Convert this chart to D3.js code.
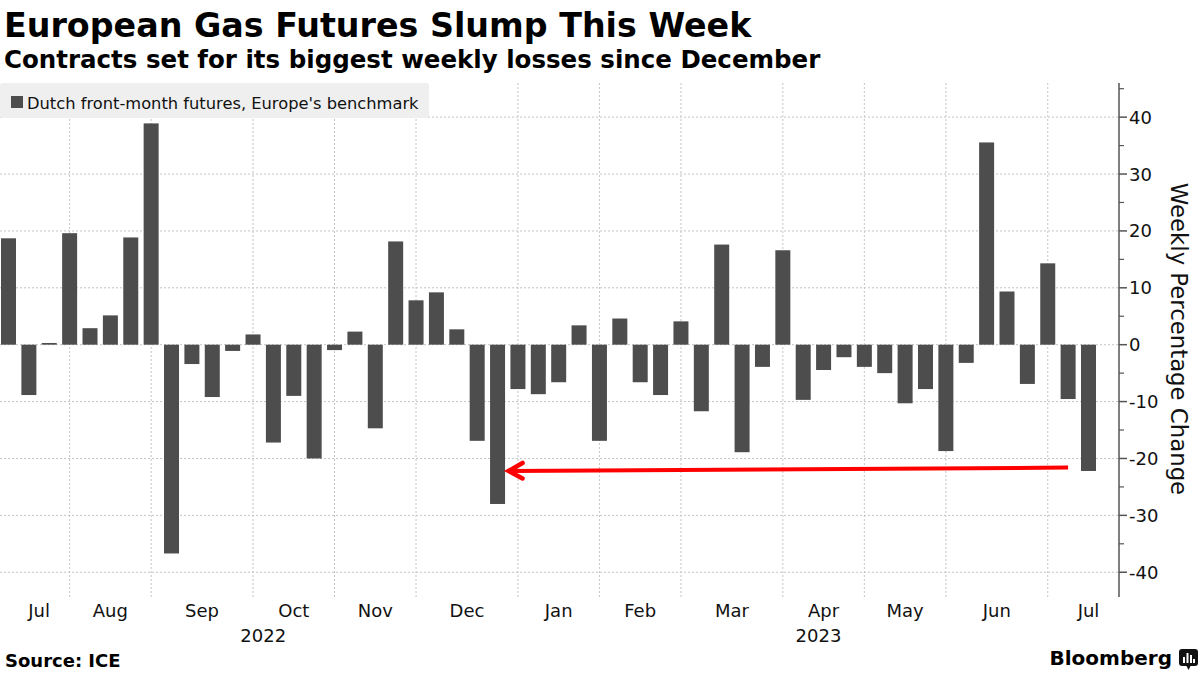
<!DOCTYPE html>
<html>
<head>
<meta charset="utf-8">
<script src="https://cdn.jsdelivr.net/npm/d3@7"></script>
<style>
  html, body { margin: 0; padding: 0; background: #fff; }
  svg { display: block; }
  text { font-family: "DejaVu Sans", Verdana, sans-serif; }
</style>
</head>
<body>
<svg id="chart" width="1200" height="675"></svg>
<script>
// ---------------- DATA ----------------
const weekDates = [
  "2022-07-15","2022-07-22","2022-07-29",
  "2022-08-05","2022-08-12","2022-08-19","2022-08-26",
  "2022-09-02","2022-09-09","2022-09-16","2022-09-23","2022-09-30",
  "2022-10-07","2022-10-14","2022-10-21","2022-10-28",
  "2022-11-04","2022-11-11","2022-11-18","2022-11-25",
  "2022-12-02","2022-12-09","2022-12-16","2022-12-23","2022-12-30",
  "2023-01-06","2023-01-13","2023-01-20","2023-01-27",
  "2023-02-03","2023-02-10","2023-02-17","2023-02-24",
  "2023-03-03","2023-03-10","2023-03-17","2023-03-24","2023-03-31",
  "2023-04-07","2023-04-14","2023-04-21","2023-04-28",
  "2023-05-05","2023-05-12","2023-05-19","2023-05-26",
  "2023-06-02","2023-06-09","2023-06-16","2023-06-23","2023-06-30",
  "2023-07-07","2023-07-14","2023-07-21"
];
const weeklyChange = [
  18.7, -8.85, 0.3,
  19.6, 2.9, 5.15, 18.85,
  38.9, -36.7, -3.4, -9.2, -1.1,
  1.8, -17.2, -9.0, -20.0,
  -0.95, 2.3, -14.7, 18.15,
  7.8, 9.2, 2.7, -16.9, -28.0,
  -7.8, -8.7, -6.6, 3.4,
  -16.9, 4.6, -6.6, -8.85,
  4.1, -11.7, 17.6, -18.9, -3.9,
  16.6, -9.7, -4.45, -2.2,
  -3.9, -5.0, -10.3, -7.8,
  -18.7, -3.2, 35.55, 9.35, -6.9,
  14.3, -9.55, -22.2
];
const monthStarts = ["2022-07-01","2022-08-01","2022-09-01","2022-10-01","2022-11-01","2022-12-01",
                     "2023-01-01","2023-02-01","2023-03-01","2023-04-01","2023-05-01","2023-06-01","2023-07-01"];
const monthLabels = ["Jul","Aug","Sep","Oct","Nov","Dec","Jan","Feb","Mar","Apr","May","Jun","Jul"];
const yearLabels = ["2022","2023"];
const yTicks = [-40,-30,-20,-10,0,10,20,30,40];
const yMinorTicks = [-35,-25,-15,-5,5,15,25,35,45];
const seriesName = "Dutch front-month futures, Europe's benchmark";
const titleText = "European Gas Futures Slump This Week";
const subtitleText = "Contracts set for its biggest weekly losses since December";
const axisTitle = "Weekly Percentage Change";
const sourceText = "Source: ICE";
// annotation: arrow from the latest week back to the December week
const arrowFrom = { index: 52, value: -21.6 };
const arrowTo = { index: 24, value: -22.2 };

// ---------------- LAYOUT ----------------
const svg = d3.select("#chart");
const parse = d3.timeParse("%Y-%m-%d");
const dates = weekDates.map(parse);
const n = dates.length;

const plotLeft = 0, plotRight = 1119, plotTop = 83, plotBottom = 595;
const barColor = "#4d4d4d";

const x = d3.scaleBand()
  .domain(d3.range(n))
  .range([-1.69, 1098.69])
  .paddingInner(0.264)
  .paddingOuter(0.132);
const bw = x.bandwidth();
const xc = d3.scaleLinear().domain([0, n - 1]).range([x(0) + bw / 2, x(n - 1) + bw / 2]);

const y = d3.scaleLinear().domain([-44, 46]).range([plotBottom, plotTop]);

const week = 7 * 24 * 3600 * 1000;
const weekIndex = d => Math.round((d - dates[0]) / week);

// month info
const months = monthStarts.map((s, i) => {
  const m = parse(s);
  const first = weekIndex(d3.timeFriday.ceil(m));
  const next = weekIndex(d3.timeFriday.ceil(d3.timeMonth.offset(m, 1)));
  return { label: monthLabels[i], first, next, date: m };
});

// ---------------- GRID ----------------
const grid = svg.append("g");
grid.selectAll("line.h").data(yTicks).join("line")
  .attr("x1", plotLeft).attr("x2", plotRight)
  .attr("y1", d => y(d)).attr("y2", d => y(d))
  .attr("stroke", "#c4c4c4").attr("stroke-width", 1).attr("stroke-dasharray", "2,2");
grid.selectAll("line.v").data(months.filter(m => m.first > 0)).join("line")
  .attr("x1", d => xc(d.first)).attr("x2", d => xc(d.first))
  .attr("y1", plotTop).attr("y2", plotBottom + 2)
  .attr("stroke", "#c4c4c4").attr("stroke-width", 1).attr("stroke-dasharray", "2,2");

// ---------------- BARS ----------------
svg.append("g").selectAll("rect").data(weeklyChange).join("rect")
  .attr("x", (d, i) => x(i))
  .attr("width", bw)
  .attr("y", d => y(Math.max(0, d)))
  .attr("height", d => Math.abs(y(d) - y(0)))
  .attr("fill", barColor);

// ---------------- Y AXIS (right) ----------------
const yAxis = svg.append("g").attr("transform", `translate(${plotRight},0)`);
yAxis.append("line").attr("x1", 0).attr("x2", 0).attr("y1", plotTop).attr("y2", plotBottom + 2)
  .attr("stroke", "#555").attr("stroke-width", 1.5);
yAxis.selectAll("line.maj").data(yTicks).join("line")
  .attr("x1", 0).attr("x2", 8).attr("y1", d => y(d)).attr("y2", d => y(d))
  .attr("stroke", "#555").attr("stroke-width", 1.5);
yAxis.selectAll("line.min").data(yMinorTicks).join("line")
  .attr("x1", 0).attr("x2", 5).attr("y1", d => y(d)).attr("y2", d => y(d))
  .attr("stroke", "#555").attr("stroke-width", 1.2);
yAxis.selectAll("text").data(yTicks).join("text")
  .attr("x", 10).attr("y", d => y(d)).attr("dy", "0.36em")
  .attr("font-size", 18).attr("fill", "#111")
  .text(d => d3.format("d")(d).replace("−", "-"));

svg.append("text")
  .attr("transform", `translate(1171,${(plotTop + plotBottom) / 2}) rotate(90)`)
  .attr("text-anchor", "middle")
  .attr("font-size", 22.8).attr("fill", "#111")
  .text(axisTitle);

// ---------------- X LABELS ----------------
svg.append("g").selectAll("text").data(months).join("text")
  .attr("x", d => xc((Math.max(0, d.first) + d.next) / 2))
  .attr("y", 617)
  .attr("text-anchor", "middle")
  .attr("font-size", 18).attr("fill", "#111")
  .text(d => d.label);

const janIdx = months.find(m => m.date.getFullYear() === 2023).first;
const yearPos = [ (xc(0) + xc(janIdx)) / 2, (xc(janIdx) + plotRight) / 2 ];
svg.append("g").selectAll("text").data(yearLabels).join("text")
  .attr("x", (d, i) => yearPos[i])
  .attr("y", 642)
  .attr("text-anchor", "middle")
  .attr("font-size", 18).attr("fill", "#111")
  .text(d => d);

// ---------------- LEGEND ----------------
const lg = svg.append("g");
lg.append("rect").attr("x", 0).attr("y", 83).attr("width", 429).attr("height", 35)
  .attr("rx", 3).attr("fill", "#efefef");
lg.append("rect").attr("x", 11).attr("y", 96).attr("width", 12).attr("height", 12).attr("fill", barColor);
lg.append("text").attr("x", 27).attr("y", 108.5).attr("font-size", 16.3).attr("fill", "#111").text(seriesName);

// ---------------- ANNOTATION ARROW ----------------
const ax1 = xc(arrowFrom.index), ay1 = y(arrowFrom.value);
const ax2 = x(arrowTo.index) + bw + 3.5, ay2 = y(arrowTo.value);
svg.append("line").attr("x1", ax1).attr("y1", ay1).attr("x2", ax2 + 2).attr("y2", ay2)
  .attr("stroke", "#ff0000").attr("stroke-width", 4);
svg.append("path")
  .attr("d", `M${ax2 + 14},${ay2 - 8} L${ax2},${ay2} L${ax2 + 14},${ay2 + 7.5}`)
  .attr("fill", "none").attr("stroke", "#ff0000").attr("stroke-width", 4.5)
  .attr("stroke-linejoin", "miter").attr("stroke-linecap", "round");

// ---------------- TITLES ----------------
svg.append("text").attr("x", 4).attr("y", 37).attr("font-size", 33.3).attr("font-weight", "bold")
  .attr("fill", "#000").text(titleText);
svg.append("text").attr("x", 4).attr("y", 68).attr("font-size", 24.5).attr("font-weight", "bold")
  .attr("fill", "#000").text(subtitleText);

// ---------------- FOOTER ----------------
svg.append("text").attr("x", 5).attr("y", 667).attr("font-size", 18).attr("font-weight", "bold")
  .attr("fill", "#000").text(sourceText);
svg.append("text").attr("x", 1172).attr("y", 665).attr("text-anchor", "end")
  .attr("font-size", 20).attr("font-weight", "bold").attr("fill", "#000").text("Bloomberg");
const logo = svg.append("g").attr("transform", "translate(1179,649)");
logo.append("rect").attr("x", 0).attr("y", 0).attr("width", 19).attr("height", 17).attr("rx", 3).attr("fill", "#111");
logo.append("path").attr("d", "M7,16 L9.5,21 L12,16 Z").attr("fill", "#111");
[[4, 8], [7.5, 4], [11, 6], [14, 10]].forEach(([bx, by]) => {
  logo.append("rect").attr("x", bx).attr("y", by).attr("width", 2).attr("height", 14 - by).attr("fill", "#fff");
});
</script>
</body>
</html>
